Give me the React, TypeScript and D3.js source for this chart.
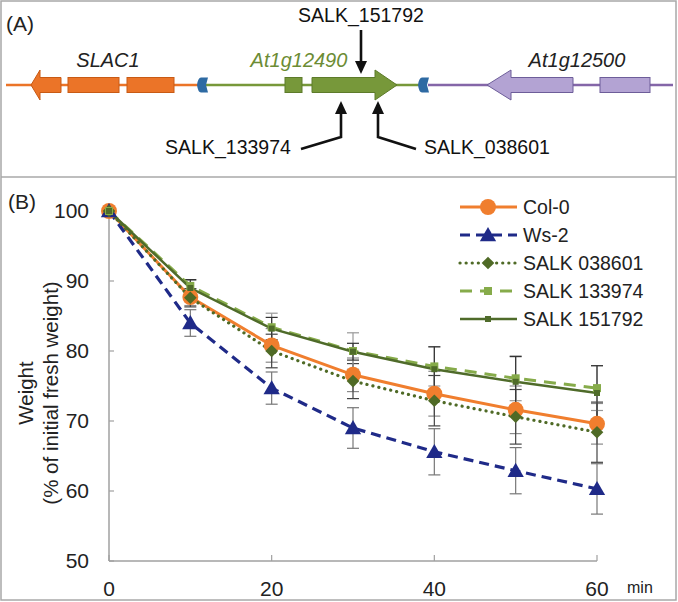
import React from "react";
import * as d3 from "d3";

// ---------- Panel B data ----------
const times = [0, 10, 20, 30, 40, 50, 60];
const seriesNames = ["Col-0", "Ws-2", "SALK 038601", "SALK 133974", "SALK 151792"];
const col0 = [100, 87.7, 80.8, 76.6, 73.9, 71.6, 69.6];
const ws2 = [100, 84.0, 74.7, 69.0, 65.6, 62.9, 60.3];
const salk038601 = [100, 87.6, 80.0, 75.7, 72.9, 70.6, 68.4];
const salk133974 = [100, 89.3, 83.4, 80.0, 77.8, 76.1, 74.7];
const salk151792 = [100, 89.0, 83.2, 79.9, 77.4, 75.6, 74.0];
const col0Err = [0, 1.2, 2.4, 2.4, 3.2, 3.4, 2.9];
const ws2Err = [0, 1.9, 2.3, 2.9, 3.3, 3.3, 3.6];
const salk038601Err = [0, 1.3, 2.4, 2.5, 3.6, 3.9, 4.3];
const salk133974Err = [0, 0.8, 2.0, 2.6, 2.8, 3.2, 3.2];
const salk151792Err = [0, 1.2, 1.6, 1.2, 3.2, 3.6, 3.9];
const yTicks = [50, 60, 70, 80, 90, 100];
const xTicks = [0, 20, 40, 60];

// ---------- Panel A data (schematic, gene coordinate units) ----------
const geneLabels = ["SLAC1", "At1g12490", "At1g12500"];
const alleleLabels = ["SALK_151792", "SALK_133974", "SALK_038601"];

const FONT = "'Liberation Sans', Arial, sans-serif";

const series = [
  { name: seriesNames[0], vals: col0, err: col0Err, color: "#f07e2e", width: 3, dash: "", cap: "butt", marker: "circle", errColor: "#8a8a8a" },
  { name: seriesNames[1], vals: ws2, err: ws2Err, color: "#1f2a88", width: 3.2, dash: "10,6", cap: "butt", marker: "triangle", errColor: "#777" },
  { name: seriesNames[2], vals: salk038601, err: salk038601Err, color: "#4f6a26", width: 3.2, dash: "0.1,6", cap: "round", marker: "diamond", errColor: "#444" },
  { name: seriesNames[3], vals: salk133974, err: salk133974Err, color: "#86ab4a", width: 3, dash: "12,8", cap: "butt", marker: "square", errColor: "#999" },
  { name: seriesNames[4], vals: salk151792, err: salk151792Err, color: "#4f6b2a", width: 2.5, dash: "", cap: "butt", marker: "smallsquare", errColor: "#333" },
];

function markerPath(kind: string) {
  const sym =
    kind === "circle" ? d3.symbolCircle :
    kind === "triangle" ? d3.symbolTriangle : d3.symbolSquare;
  const size =
    kind === "circle" ? 200 :
    kind === "triangle" ? 115 :
    kind === "diamond" ? 80 :
    kind === "square" ? 64 : 36;
  return d3.symbol(sym, size)() as string;
}

function Marker({ kind, color, x, y }: { kind: string; color: string; x: number; y: number }) {
  const dy = kind === "triangle" ? 1.5 : 0;
  const rot = kind === "diamond" ? " rotate(45)" : "";
  return <path d={markerPath(kind)} transform={`translate(${x},${y + dy})${rot}`} fill={color} />;
}

function PanelB() {
  const x = d3.scaleLinear().domain([0, 60]).range([109, 597]);
  const y = d3.scaleLinear().domain([50, 100]).range([561, 211]);
  const axisColor = "#a0a0a0";
  return (
    <g>
      <text x={8} y={209} fontSize={21} fontFamily={FONT} fill="#222">(B)</text>
      {/* axes */}
      <line x1={x(0)} x2={x(0)} y1={y(100)} y2={y(50)} stroke={axisColor} strokeWidth={1.5} />
      <line x1={x(0)} x2={x(60)} y1={y(50)} y2={y(50)} stroke={axisColor} strokeWidth={1.5} />
      {yTicks.map((t) => (
        <g key={"y" + t}>
          <line x1={x(0)} x2={x(0) + 5} y1={y(t)} y2={y(t)} stroke={axisColor} strokeWidth={1.2} />
          <text x={89} y={y(t)} dy="0.35em" textAnchor="end" fontSize={21} fontFamily={FONT} fill="#222">{t}</text>
        </g>
      ))}
      {xTicks.map((t) => (
        <g key={"x" + t}>
          <line x1={x(t)} x2={x(t)} y1={y(50)} y2={y(50) - 6} stroke={axisColor} strokeWidth={1.2} />
          <text x={x(t)} y={589} dy="0.35em" textAnchor="middle" fontSize={21} fontFamily={FONT} fill="#222">{t}</text>
        </g>
      ))}
      <text x={627} y={587} dy="0.35em" fontSize={16} fontFamily={FONT} fill="#222">min</text>
      <text transform="translate(26,393) rotate(-90)" textAnchor="middle" dy="0.35em" fontSize={20.5} fontFamily={FONT} fill="#222">Weight</text>
      <text transform="translate(51,393) rotate(-90)" textAnchor="middle" dy="0.35em" fontSize={20.5} fontFamily={FONT} fill="#222">(% of initial fresh weight)</text>
      {/* error bars */}
      {series.map((s) =>
        times.map((t, i) =>
          s.err[i] > 0 ? (
            <g key={s.name + "e" + i} stroke={s.errColor} strokeWidth={1.2}>
              <line x1={x(t)} x2={x(t)} y1={y(s.vals[i] + s.err[i])} y2={y(s.vals[i] - s.err[i])} />
              <line x1={x(t) - 6} x2={x(t) + 6} y1={y(s.vals[i] + s.err[i])} y2={y(s.vals[i] + s.err[i])} />
              <line x1={x(t) - 6} x2={x(t) + 6} y1={y(s.vals[i] - s.err[i])} y2={y(s.vals[i] - s.err[i])} />
            </g>
          ) : null
        )
      )}
      {/* lines */}
      {series.map((s) => {
        const line = d3.line<number>().x((_, i) => x(times[i])).y((v) => y(v));
        return (
          <path key={s.name + "l"} d={line(s.vals) as string} fill="none" stroke={s.color}
            strokeWidth={s.width} strokeDasharray={s.dash || undefined} strokeLinecap={s.cap as any} />
        );
      })}
      {/* markers */}
      {series.map((s) =>
        times.map((t, i) => <Marker key={s.name + "m" + i} kind={s.marker} color={s.color} x={x(t)} y={y(s.vals[i])} />)
      )}
      {/* legend */}
      {series.map((s, k) => {
        const ly = 207 + k * 28;
        return (
          <g key={s.name + "lg"}>
            <line x1={460} x2={517} y1={ly} y2={ly} stroke={s.color} strokeWidth={s.width}
              strokeDasharray={s.dash || undefined} strokeLinecap={s.cap as any} />
            <Marker kind={s.marker} color={s.color} x={488} y={ly} />
            <text x={523} y={ly} dy="0.35em" fontSize={19.5} fontFamily={FONT} fill="#222">{s.name}</text>
          </g>
        );
      })}
    </g>
  );
}

function Chevron({ x0, y0, fill }: { x0: number; y0: number; fill: string }) {
  const w = 11, h = 15;
  const d = `M${x0},${y0} Q${x0 + 1},${y0 - h / 2} ${x0 + 4},${y0 - h / 2} L${x0 + w},${y0 - h / 2} L${x0 + w - 2},${y0} L${x0 + w},${y0 + h / 2} L${x0 + 4},${y0 + h / 2} Q${x0 + 1},${y0 + h / 2} ${x0},${y0} Z`;
  return <path d={d} fill={fill} />;
}

function PanelA() {
  // schematic coordinate scale (gene units -> pixels)
  const g = d3.scaleLinear().domain([0, 678]).range([0, 678]);
  const cy = 85;
  const exH = 15, headH = 30;
  const orange = "#eb7428", orangeS = "#c85a14";
  const green = "#77983a", greenS = "#5d7b2a";
  const purple = "#b3a3d3", purpleS = "#6d5d99", purpleL = "#8466a8";
  const blue = "#2e6aa3";
  const arrowLeft = (tip: number, base: number, end: number) =>
    `M${g(tip)},${cy} L${g(base)},${cy - headH / 2} L${g(base)},${cy - exH / 2} L${g(end)},${cy - exH / 2} L${g(end)},${cy + exH / 2} L${g(base)},${cy + exH / 2} L${g(base)},${cy + headH / 2} Z`;
  const arrowRight = (start: number, base: number, tip: number) =>
    `M${g(start)},${cy - exH / 2} L${g(base)},${cy - exH / 2} L${g(base)},${cy - headH / 2} L${g(tip)},${cy} L${g(base)},${cy + headH / 2} L${g(base)},${cy + exH / 2} L${g(start)},${cy + exH / 2} Z`;
  const head = (x0: number, yTip: number) => `M${x0},${yTip} L${x0 - 6},${yTip - 13} L${x0 + 6},${yTip - 13} Z`;
  const headUp = (x0: number, yTip: number) => `M${x0},${yTip} L${x0 - 6},${yTip + 13} L${x0 + 6},${yTip + 13} Z`;
  return (
    <g>
      <text x={6} y={31} fontSize={21} fontFamily={FONT} fill="#222">(A)</text>
      {/* backbone lines */}
      <line x1={g(6)} x2={g(198)} y1={cy} y2={cy} stroke={orange} strokeWidth={2.5} />
      <line x1={g(206)} x2={g(420)} y1={cy} y2={cy} stroke={green} strokeWidth={2.5} />
      <line x1={g(428)} x2={g(673)} y1={cy} y2={cy} stroke={purpleL} strokeWidth={2.5} />
      {/* SLAC1 */}
      <path d={arrowLeft(31, 40, 61)} fill={orange} stroke={orangeS} strokeWidth={1} />
      <rect x={g(68)} y={cy - exH / 2} width={g(119) - g(68)} height={exH} fill={orange} stroke={orangeS} strokeWidth={1} />
      <rect x={g(127)} y={cy - exH / 2} width={g(174) - g(127)} height={exH} fill={orange} stroke={orangeS} strokeWidth={1} />
      {/* At1g12490 */}
      <rect x={g(285)} y={cy - exH / 2} width={g(302) - g(285)} height={exH} fill={green} stroke={greenS} strokeWidth={1} />
      <path d={arrowRight(312, 375, 397)} fill={green} stroke={greenS} strokeWidth={1} />
      {/* At1g12500 */}
      <path d={arrowLeft(487, 511, 573)} fill={purple} stroke={purpleS} strokeWidth={1} />
      <rect x={g(600)} y={cy - exH / 2} width={g(650) - g(600)} height={exH} fill={purple} stroke={purpleS} strokeWidth={1} />
      {/* blue markers */}
      <Chevron x0={g(197)} y0={cy} fill={blue} />
      <Chevron x0={g(418)} y0={cy} fill={blue} />
      {/* gene labels */}
      <text x={g(108)} y={67} textAnchor="middle" fontStyle="italic" fontSize={20} fontFamily={FONT} fill="#222">{geneLabels[0]}</text>
      <text x={g(299)} y={67} textAnchor="middle" fontStyle="italic" fontSize={20} fontFamily={FONT} fill="#6c8c34">{geneLabels[1]}</text>
      <text x={g(577)} y={67} textAnchor="middle" fontStyle="italic" fontSize={20} fontFamily={FONT} fill="#222">{geneLabels[2]}</text>
      {/* insertion arrows */}
      <text x={g(361)} y={22} textAnchor="middle" fontSize={19.5} fontFamily={FONT} fill="#111">{alleleLabels[0]}</text>
      <line x1={g(361)} x2={g(361)} y1={30} y2={62} stroke="#111" strokeWidth={2.6} />
      <path d={head(g(361), 74)} fill="#111" />
      <text x={g(228)} y={147} dy="0.35em" textAnchor="middle" fontSize={19.5} fontFamily={FONT} fill="#111">{alleleLabels[1]}</text>
      <polyline points={`${g(301)},${149} ${g(341)},${137} ${g(341)},${113}`} fill="none" stroke="#111" strokeWidth={2.6} />
      <path d={headUp(g(341), 101)} fill="#111" />
      <text x={g(487)} y={147} dy="0.35em" textAnchor="middle" fontSize={19.5} fontFamily={FONT} fill="#111">{alleleLabels[2]}</text>
      <polyline points={`${g(416)},${149} ${g(378)},${137} ${g(378)},${113}`} fill="none" stroke="#111" strokeWidth={2.6} />
      <path d={headUp(g(378), 101)} fill="#111" />
    </g>
  );
}

export default function App() {
  return (
    <svg width={678} height={602} style={{ position: "absolute", left: 0, top: 0, background: "#fff" }}>
      <rect x={0} y={0} width={678} height={602} fill="#fff" />
      <rect x={1} y={1} width={675} height={599} fill="none" stroke="#a8a8a8" strokeWidth={1.5} />
      <line x1={1} x2={676} y1={177} y2={177} stroke="#a8a8a8" strokeWidth={1.5} />
      <PanelA />
      <PanelB />
    </svg>
  );
}
